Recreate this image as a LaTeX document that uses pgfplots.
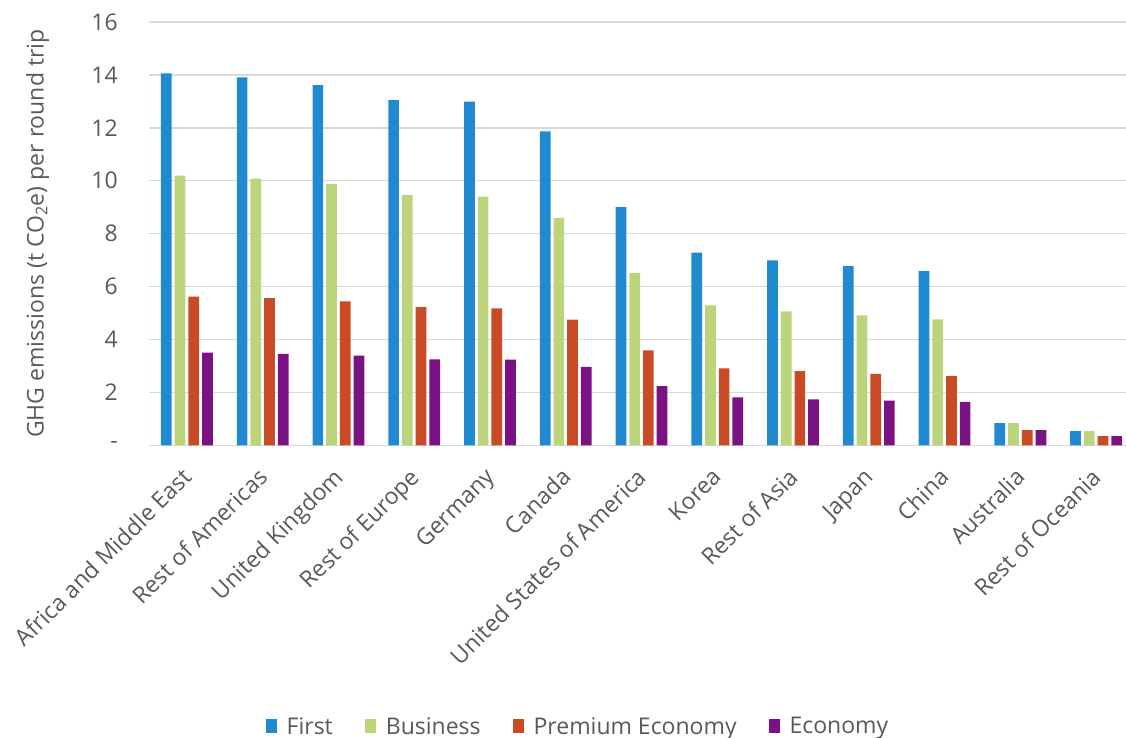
\documentclass[border=0pt]{standalone}
\usepackage{fontspec}
\setmainfont{Open Sans}
\usepackage{pgfplots}
\pgfplotsset{compat=1.18}
\definecolor{cFirst}{HTML}{2089CF}
\definecolor{cBus}{HTML}{BCD47C}
\definecolor{cPrem}{HTML}{C84B26}
\definecolor{cEco}{HTML}{7A1284}
\definecolor{txtgray}{HTML}{595959}
\definecolor{gridgray}{HTML}{D9D9D9}
\newcommand{\chartfont}{\fontsize{23bp}{27bp}\selectfont}
\begin{document}
\begin{tikzpicture}
\useasboundingbox (0,0) rectangle (1126bp,738bp);
\begin{axis}[
  at={(149bp,292.7bp)}, anchor=south west,
  scale only axis, width=985bp, height=423.3bp,
  xmin=-0.5, xmax=12.5, ymin=0, ymax=16,
  ybar=3bp, bar width=10.7bp,
  axis line style={draw=none},
  xmajorgrids=false, ymajorgrids=true,
  y grid style={draw=gridgray, line width=1.4bp},
  major tick length=0pt,
  ytick={0,2,4,6,8,10,12,14,16},
  yticklabels={-,2,4,6,8,10,12,14,16},
  xtick={0,1,2,3,4,5,6,7,8,9,10,11,12},
  xticklabels={Africa and Middle East,Rest of Americas,United Kingdom,Rest of Europe,Germany,Canada,United States of America,Korea,Rest of Asia,Japan,China,Australia,Rest of Oceania},
  tick label style={font=\chartfont, text=txtgray},
  yticklabel style={inner sep=0pt, anchor=east, xshift=-31bp},
  xticklabel style={xshift=-6bp, yshift=-21bp, rotate=45, anchor=north east, inner sep=0pt},
  ylabel={GHG emissions (t CO\textsubscript{2}e) per round trip},
  ylabel style={font=\chartfont, text=txtgray, at={(axis description cs:-0.113,0.5)}, anchor=center},
  legend columns=-1,
  legend style={draw=none, font=\chartfont, text=txtgray, at={(rel axis cs:0.4355,-0.664)}, anchor=center,
    /tikz/every odd column/.append style={column sep=8bp},
    /tikz/every even column/.append style={column sep=30bp}},
  legend image code/.code={\fill[#1] (0bp,-7bp) rectangle (11bp,7bp);},
]
\addplot[fill=cFirst, draw=none] coordinates {(0,14.06) (1,13.91) (2,13.61) (3,13.05) (4,12.99) (5,11.87) (6,9.00) (7,7.28) (8,6.99) (9,6.77) (10,6.58) (11,0.84) (12,0.54)};
\addplot[fill=cBus, draw=none] coordinates {(0,10.19) (1,10.08) (2,9.88) (3,9.46) (4,9.40) (5,8.60) (6,6.51) (7,5.29) (8,5.06) (9,4.91) (10,4.76) (11,0.84) (12,0.54)};
\addplot[fill=cPrem, draw=none] coordinates {(0,5.62) (1,5.56) (2,5.44) (3,5.22) (4,5.18) (5,4.75) (6,3.59) (7,2.91) (8,2.80) (9,2.70) (10,2.62) (11,0.57) (12,0.35)};
\addplot[fill=cEco, draw=none] coordinates {(0,3.50) (1,3.46) (2,3.39) (3,3.25) (4,3.24) (5,2.96) (6,2.24) (7,1.81) (8,1.74) (9,1.69) (10,1.64) (11,0.57) (12,0.35)};
\legend{First,Business,Premium Economy,Economy}
\end{axis}
\end{tikzpicture}
\end{document}
